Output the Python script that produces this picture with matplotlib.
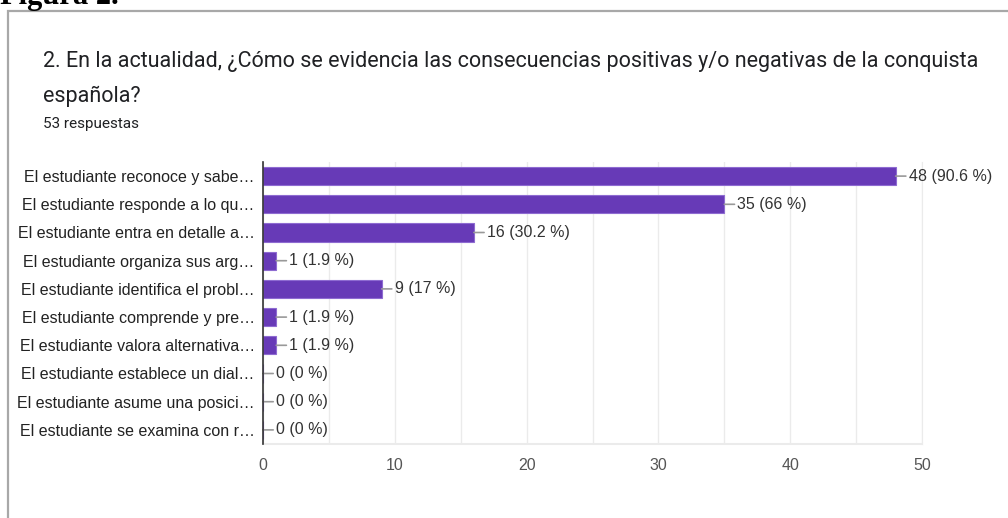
import matplotlib.pyplot as plt
from matplotlib.patches import Rectangle

# datos de la figura
etiquetas = [
    "El estudiante reconoce y sabe…",
    "El estudiante responde a lo qu…",
    "El estudiante entra en detalle a…",
    "El estudiante organiza sus arg…",
    "El estudiante identifica el probl…",
    "El estudiante comprende y pre…",
    "El estudiante valora alternativa…",
    "El estudiante establece un dial…",
    "El estudiante asume una posici…",
    "El estudiante se examina con r…",
]
respuestas = [48, 35, 16, 1, 9, 1, 1, 0, 0, 0]
porcentajes = ["90.6", "66", "30.2", "1.9", "17", "1.9", "1.9", "0", "0", "0"]
x_ticks = [0, 10, 20, 30, 40, 50]

titulo_1 = "2. En la actualidad, ¿Cómo se evidencia las consecuencias positivas y/o negativas de la conquista"
titulo_2 = "española?"
subtitulo = "53 respuestas"

plt.rcParams['font.family'] = ['Liberation Sans', 'DejaVu Sans']

fig = plt.figure(figsize=(10.08, 5.18), dpi=100)

# marco gris de la tarjeta
fig.patches.append(Rectangle((8 / 1008, -0.1), 1.2, (518 - 11) / 518 + 0.1,
                             transform=fig.transFigure, fill=False,
                             edgecolor='#a8a8a8', linewidth=1.6))

# "Figura 2." cortado arriba
fig.text(0.0, 1 - 4 / 518, "Figura 2.", family='Liberation Serif', fontweight='bold',
         fontsize=22, ha='left', va='baseline', color='black')

fig.text(43 / 1008, 1 - 62 / 518, titulo_1, family='Roboto', fontsize=15.5,
         color='#202124', ha='left', va='center')
fig.text(43 / 1008, 1 - 96 / 518, titulo_2, family='Roboto', fontsize=15.5,
         color='#202124', ha='left', va='center')
fig.text(43 / 1008, 1 - 124 / 518, subtitulo, family='Roboto', fontsize=11,
         color='#202124', ha='left', va='center')

ax = fig.add_axes([263 / 1008, 1 - 444 / 518, (922 - 263) / 1008, (444 - 162) / 518])

y = list(range(len(etiquetas)))
ax.barh(y, respuestas, height=0.64, color='#673ab7', edgecolor='#8e6bd1',
        linewidth=0.8, zorder=3)

for yi, v, p in zip(y, respuestas, porcentajes):
    ax.annotate(f"{v} ({p} %)", xy=(v, yi), xytext=(13, 0), textcoords='offset pixels',
                ha='left', va='center', fontsize=11.5, color='#333333',
                arrowprops=dict(arrowstyle='-', color='#999999', lw=1.2,
                                shrinkA=0, shrinkB=0), zorder=4)

ax.set_xlim(0, 50)
ax.set_ylim(len(etiquetas) - 0.5, -0.5)
ax.set_yticks(y)
ax.set_yticklabels(etiquetas, fontsize=11.5, color='#222222')
ax.set_xticks(x_ticks)
ax.set_xticklabels([str(t) for t in x_ticks], fontsize=11.5, color='#555555')
ax.set_xticks(range(5, 50, 10), minor=True)
ax.tick_params(axis='both', which='both', length=0)
ax.tick_params(axis='x', pad=10)
ax.tick_params(axis='y', pad=6)

ax.grid(axis='x', which='both', color='#ebebeb', linewidth=1, zorder=0)
ax.spines['top'].set_visible(False)
ax.spines['right'].set_color('#ebebeb')
ax.spines['bottom'].set_color('#ebebeb')
ax.spines['bottom'].set_linewidth(1.5)
ax.spines['left'].set_color('#333333')
ax.spines['left'].set_linewidth(1.2)
ax.spines['left'].set_zorder(5)

fig.savefig("out.png", dpi=100)
